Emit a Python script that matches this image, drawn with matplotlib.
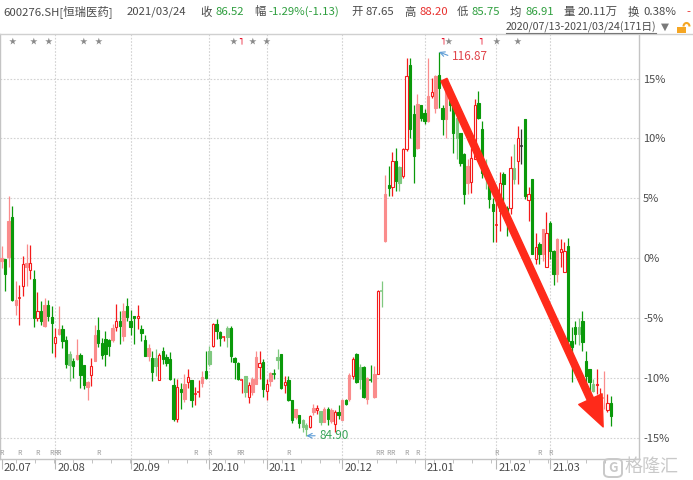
import matplotlib
matplotlib.use('Agg')
import matplotlib.pyplot as plt
import matplotlib.transforms as mtransforms
from matplotlib.patches import Rectangle, FancyBboxPatch, Arc
from matplotlib.lines import Line2D
import numpy as np

plt.rcParams['font.family'] = ['Noto Sans CJK SC', 'DejaVu Sans']

# 涨跌幅(%)，相对基准价
base_price = 99.7
opens = [
    -0.2, -0.06, 0.06, 3.47, -3.94, -3.36, -2.36, -0.78, -0.97, -1.75, -5.0, -4.44, -5.69, -3.94, -4.94,
    -7.08, -6.31, -5.89, -6.81, -8.0, -8.56, -8.39, -8.06, -8.89, -10.78, -9.78, -8.56, -6.03, -7.08, -6.75,
    -6.86, -6.81, -5.78, -5.22, -6.47, -4.03,
    -5.28, -4.81, -5.0, -5.89, -6.81, -8.19, -8.33, -8.33, -10.14, -7.72, -8.3, -8.42, -10.64, -13.42, -10.92,
    -11.75, -10.31, -10.22, -11.4, -11.25, -10.42, -9.39,
    -7.72, -7.31, -5.5, -6.19, -6.64, -5.86, -5.86, -8.36, -8.75, -10.22, -9.86, -11.6, -11.19, -10.5, -9.11, -8.64,
    -11.06, -10.3, -9.6, -8.3, -8.0, -10.58, -10.14, -11.83, -13.28, -13.14, -13.56, -13.97, -14.1, -12.86, -12.7,
    -12.8, -13.69, -12.58, -13.64, -13.83, -12.86,
    -13.56, -11.89, -11.75, -9.81, -8.0, -9.11, -9.11, -11.8, -10.1, -11.6, -9.67, -2.7, 1.44, 6.08, 5.94, 8.11,
    7.61, 6.86, 9.08, 16.17, 12.06, 9.22, 12.75,
    12.14, 11.44, 13.53, 12.56, 15.33, 12.56, 11.58, 14.22, 12.83, 11.72, 10.47, 8.67, 6.31, 6.36, 8.25, 12.97,
    10.75, 7.14, 6.17, 4.5,
    2.72, 3.94, 7.0, 4.22, 4.22, 7.56, 8.11, 9.36, 11.58, 4.83, 6.58, -0.08, 1.17, 0.33, -0.72,
    2.97, 0.61, -1.33, 0.47, -1.19, 1.03, -6.89, -5.78, -5.78, -5.22, -8.56, -9.25, -10.5, -10.64, -11.72, -11.72,
    -12.67, -12.09,
]
highs = [
    1.05, -0.06, 5.22, 4.36, -1.94, -2.22, 0.14, 1.19, 1.11, -0.97, -2.83, -3.56, -3.33, -3.47, -4.03,
    -5.83, -3.97, -5.61, -6.53, -7.8, -8.33, -6.72, -7.92, -8.89, -10.28, -8.33, -5.56, -4.94, -6.67, -6.11,
    -6.72, -5.5, -3.83, -4.39, -3.75, -3.33,
    -4.31, -4.81, -3.94, -5.61, -6.44, -7.17, -7.78, -7.58, -7.92, -7.44, -8.0, -7.86, -10.0, -10.1, -10.42,
    -9.67, -9.25, -10.2, -10.78, -10.22, -9.39, -7.8,
    -7.3, -5.4, -5.08, -6.06, -6.47, -5.69, -5.69, -8.28, -8.69, -10.1, -9.86, -10.36, -9.94, -7.72, -7.72, -8.42,
    -10.08, -9.53, -9.25, -7.6, -8.0, -9.86, -9.86, -11.83, -12.58, -13.08, -13.42, -13.8, -13.1, -12.17, -12.25,
    -12.8, -12.4, -12.44, -12.5, -12.72, -12.3,
    -11.75, -11.8, -9.6, -8.28, -7.92, -8.83, -9.03, -9.94, -8.92, -9.03, -2.64, -1.89, 6.92, 7.69, 8.89, 9.22,
    7.69, 9.22, 16.72, 16.72, 12.83, 13.67, 12.83,
    12.42, 16.72, 15.06, 15.33, 17.22, 12.83, 15.06, 14.36, 12.97, 11.86, 10.47, 8.81, 8.25, 9.22, 13.25, 13.94,
    11.44, 8.25, 6.72, 5.06,
    5.19, 7.22, 7.22, 4.36, 8.53, 9.56, 11.03, 10.75, 11.58, 5.94, 6.58, 2.06, 1.31, 2.42, 3.89,
    3.11, 0.67, 1.72, 1.58, 1.31, 1.72, -5.78, -5.22, -5.0, -4.44, -7.72, -9.25, -10.08, -9.25, -10.83, -9.44,
    -11.33, -11.53,
]
lows = [
    -0.8, -2.78, -0.78, -3.61, -4.78, -5.56, -3.19, -2.36, -1.75, -5.78, -5.28, -5.56, -5.78, -5.28, -7.92,
    -8.28, -6.39, -7.5, -9.17, -10.28, -10.0, -8.47, -10.83, -10.97, -11.86, -10.69, -8.56, -7.44, -8.39, -9.03,
    -8.19, -7.0, -6.11, -7.17, -6.94, -5.22,
    -6.39, -7.17, -5.89, -6.89, -8.19, -8.56, -10.28, -9.86, -10.14, -8.83, -9.0, -10.14, -13.6, -13.7, -12.58,
    -12.03, -10.86, -12.44, -12.3, -11.6, -10.78, -10.08,
    -8.97, -7.4, -6.75, -7.3, -6.9, -7.4, -8.69, -10.08, -10.22, -11.25, -11.6, -12.08, -11.47, -10.5, -10.08, -11.6,
    -11.89, -10.69, -10.08, -9.25, -10.97, -11.25, -11.97, -13.75, -13.42, -14.19, -14.5, -14.84, -14.2, -13.14,
    -13.0, -13.97, -13.7, -13.97, -13.8, -14.53, -13.42,
    -13.56, -12.25, -11.9, -10.08, -10.42, -10.92, -11.69, -12.17, -10.36, -11.69, -9.67, -4.11, 1.31, 5.19, 5.19,
    5.61, 5.61, 6.72, 8.94, 10.06, 6.31, 9.08, 11.44,
    11.17, 11.39, 13.39, 12.14, 12.56, 10.28, 10.06, 12.28, 8.81, 8.25, 7.69, 4.5, 5.33, 5.47, 8.25, 11.58,
    6.72, 5.75, 4.22, 1.31,
    1.31, 2.28, 4.78, 1.86, 3.67, 6.17, 6.17, 7.83, 4.92, 3.11, 0.33, -0.5, -0.5, -0.22, -0.72,
    -0.08, -2.22, -2.03, -0.78, -1.19, -7.17, -10.36, -7.17, -7.22, -7.72, -10.36, -11.06, -11.19, -11.33,
    -12.17, -12.58, -12.86, -13.99,
]
closes = [
    0.05, -1.33, 3.14, -3.47, -3.47, -3.3, -0.5, -0.44, -0.44, -5.0, -4.44, -5.22, -3.89, -4.86, -5.42,
    -6.58, -5.89, -6.94, -8.81, -8.9, -8.97, -8.06, -9.78, -10.56, -10.33, -8.97, -6.44, -7.08, -8.06, -8.0,
    -7.36, -5.83, -5.22, -5.69, -4.39, -4.94,
    -5.78, -5.0, -4.81, -6.25, -8.19, -7.5, -9.5, -9.03, -8.06, -8.42, -8.8, -10.08, -13.42, -10.78, -11.19,
    -10.5, -9.94, -11.89, -11.3, -11.15, -9.94, -10.03,
    -8.83, -5.5, -6.06, -6.69, -6.55, -6.61, -8.19, -8.69, -10.08, -10.17, -11.19, -10.56, -10.08, -8.28, -8.75,
    -10.92,
    -10.5, -9.58, -9.7, -8.5, -10.83, -10.36, -11.89, -13.56, -12.64, -13.75, -14.1, -14.25, -13.2, -12.53,
    -12.53, -13.7, -12.58, -13.42, -12.72, -12.86, -13.14,
    -11.89, -12.17, -9.75, -8.42, -10.36, -10.08, -11.61, -10.03, -10.2, -9.67, -2.72, -2.8, 5.39, 5.89, 8.11,
    6.44, 6.31, 9.08, 15.19, 10.8, 8.53, 12.89, 11.72,
    11.44, 13.53, 13.89, 15.19, 14.22, 11.58, 14.92, 12.83, 10.47, 10.06, 7.97, 5.33, 7.69, 8.39, 12.83, 11.72,
    7.14, 6.86, 4.92, 3.94,
    2.83, 6.31, 6.17, 3.53, 7.56, 6.58, 10.06, 9.36, 5.19, 5.39, 0.33, 0.89, 0.33, 2.42, 2.06,
    0.61, -1.33, 1.58, 0.75, 0.56, -6.89, -7.44, -6.33, -6.33, -7.03, -9.81, -10.36, -11.06, -10.5, -11.64,
    -11.64, -12.11, -13.22,
]
faded = [0, 2, 4, 7, 12, 16, 19, 21, 24, 26, 31, 34, 41, 43, 51, 56, 58, 63, 68, 70, 71, 75, 77, 82, 84, 85,
         87, 89, 90, 92, 95, 97, 100, 102, 104, 106, 107, 111, 116, 119, 121, 124, 127, 130, 135, 143, 151,
         155, 161, 165, 168]

month_start = [0, 15, 36, 58, 74, 95, 118, 138, 153]
month_labels = ['20.07', '20.08', '20.09', '20.10', '20.11', '20.12', '21.01', '21.02', '21.03']
y_ticks = [15, 10, 5, 0, -5, -10, -15]
star_days = [3, 9, 13, 23, 27, 64.6, 70, 74, 124.6, 138, 144]
flag_days = [66.5, 122.8, 133.5]
r_days = [0, 5, 10, 14, 15, 16, 27, 54, 58, 66, 67, 80, 105, 106, 108, 109, 113, 116, 138, 150, 153]
max_price, min_price = 116.87, 84.90

RED, GREEN = '#f51b1b', '#0a990a'
RED_F, GREEN_F = '#fa8c8c', '#7fc87f'
GRAY_TXT = '#4a4a4a'

W, H = 693, 480
fig = plt.figure(figsize=(W / 100, H / 100), dpi=100)
fig.patch.set_facecolor('white')


def fx(px):
    return px / W


def fy(py):
    return 1 - py / H


ax = fig.add_axes([0, fy(459), fx(639), (459 - 34) / H])
ax.set_xlim(-0.42, 177.8)
ax.set_ylim(-16.78, 18.72)
ax.set_facecolor('none')

for v in y_ticks:
    ax.axhline(v, color='#d2d2d2', lw=0.8, ls=(0, (1.5, 1.5)), zorder=0)
for m in month_start[1:]:
    ax.axvline(m, color='#d2d2d2', lw=0.8, ls=(0, (1.5, 1.5)), zorder=0)

bw = 0.66
for i in range(len(closes)):
    o, h, l, c = opens[i], highs[i], lows[i], closes[i]
    fade = i in faded
    if c > o:
        edge = RED_F if fade else RED
        face = RED_F if fade else 'white'
    elif c < o:
        edge = face = GREEN_F if fade else GREEN
    else:
        edge = face = '#333333'
    ax.vlines(i, l, h, color=edge, lw=0.9, zorder=2)
    top, bot = max(o, c), min(o, c)
    if top - bot < 0.12:
        ax.hlines((o + c) / 2, i - bw / 2 - 0.1, i + bw / 2 + 0.1, color=edge, lw=1.1, zorder=3)
    else:
        ax.add_patch(Rectangle((i - bw / 2, bot), bw, top - bot, facecolor=face,
                               edgecolor=edge, lw=0.8, zorder=3))

# 最高/最低价标注
hi_i = int(np.argmax(highs))
lo_i = int(np.argmin(lows))
ax.annotate(f'{max_price:.2f}', xy=(hi_i, highs[hi_i]), xytext=(13, -5), textcoords='offset pixels',
            ha='left', va='center', fontsize=8.5, color='#e0464c',
            arrowprops=dict(arrowstyle='->', color='#5b9bd5', lw=0.8, shrinkA=1, shrinkB=0,
                            relpos=(0, 0.5)))
ax.annotate(f'{min_price:.2f}', xy=(lo_i, lows[lo_i]), xytext=(13, 0), textcoords='offset pixels',
            ha='left', va='center', fontsize=8.5, color='#3aa55a',
            arrowprops=dict(arrowstyle='->', color='#5b9bd5', lw=0.8, shrinkA=1, shrinkB=0,
                            relpos=(0, 0.5)))

# 红色趋势箭头
ax.annotate('', xy=(167.8, -14.1), xytext=(123.4, 14.9),
            arrowprops=dict(arrowstyle='simple,head_length=2.2,head_width=1.85,tail_width=0.48',
                            color='#ff2a1a', shrinkA=0, shrinkB=0, mutation_scale=10), zorder=5)

trans = mtransforms.blended_transform_factory(ax.transData, ax.transAxes)
for d in star_days:
    ax.text(d, 0.982, '★', transform=trans, ha='center', va='center', fontsize=5.5, color='#8a8a8a')
for d in flag_days:
    ax.text(d, 0.982, '˥', transform=trans, ha='center', va='center', fontsize=6,
            color='#e8102a', fontweight='bold', family='DejaVu Sans')
for d in r_days:
    ax.text(d, 0.014, 'R', transform=trans, ha='center', va='center', fontsize=5, color='#9a9a9a')

# 坐标轴
ax.yaxis.tick_right()
ax.set_yticks(y_ticks)
ax.set_yticklabels([f'{v}%' for v in y_ticks])
ax.tick_params(axis='y', length=0, pad=3, labelsize=8, labelcolor=GRAY_TXT)
ax.set_xticks(month_start)
ax.set_xticklabels([])
ax.set_xticks(np.arange(4, 171, 5.3), minor=True)
ax.tick_params(axis='x', which='major', length=7, color='#b8b8b8', direction='out')
ax.tick_params(axis='x', which='minor', length=3, color='#b8b8b8', direction='out')
for m, lab in zip(month_start, month_labels):
    ax.text(m + 0.55, -0.022, lab, transform=trans, ha='left', va='center', fontsize=8, color=GRAY_TXT)
for s in ['left', 'right', 'bottom']:
    ax.spines[s].set_color('#c4c4c4')
    ax.spines[s].set_linewidth(1)
ax.spines['top'].set_visible(False)

fig.add_artist(Line2D([0, 1], [fy(34), fy(34)], color='#d0d0d0', lw=1, transform=fig.transFigure))

# 顶部行情栏
header = [
    (3, '600276.SH[恒瑞医药]', GRAY_TXT), (127, '2021/03/24', GRAY_TXT),
    (200, '收', GRAY_TXT), (215, '86.52', '#2e9e3e'),
    (254, '幅', GRAY_TXT), (268, '-1.29%(-1.13)', '#2e9e3e'),
    (351, '开', GRAY_TXT), (366, '87.65', GRAY_TXT),
    (404, '高', GRAY_TXT), (419, '88.20', '#e8312f'),
    (457, '低', GRAY_TXT), (472, '85.75', '#2e9e3e'),
    (510, '均', GRAY_TXT), (525, '86.91', '#2e9e3e'),
    (563, '量', GRAY_TXT), (578, '20.11万', GRAY_TXT),
    (628, '换', GRAY_TXT), (643, '0.38%', GRAY_TXT),
    (686, '-', '#e8312f'),
]
for px, s, col in header:
    fig.text(fx(px), fy(12), s, ha='left', va='center', fontsize=8.2, color=col)

fig.text(fx(506), fy(27), '2020/07/13-2021/03/24(171日)', ha='left', va='center', fontsize=7.7,
         color=GRAY_TXT)
fig.add_artist(Line2D([fx(506), fx(656)], [fy(33), fy(33)], color='#777777', lw=0.8,
                      transform=fig.transFigure))
fig.text(fx(661), fy(27), '▼', ha='left', va='center', fontsize=7.5, color='#7a7a7a', family='DejaVu Sans')
fig.add_artist(Rectangle((fx(677), fy(33)), fx(9), 6 / H, facecolor='#f5a623', edgecolor='none',
                         transform=fig.transFigure))
fig.add_artist(Arc((fx(686.5), fy(26.5)), fx(6), 7 / H, theta1=0, theta2=180, color='#f5a623', lw=1.5,
                   transform=fig.transFigure))

# 水印
fig.add_artist(FancyBboxPatch((fx(604), fy(477)), fx(18), 18 / H, boxstyle='round,pad=0,rounding_size=0.008',
                              facecolor='none', edgecolor='#c9c9c9', lw=1.4, transform=fig.transFigure))
fig.text(fx(613), fy(468), 'G', ha='center', va='center', fontsize=9.5, color='#c9c9c9', fontweight='bold')
fig.text(fx(625), fy(467), '格隆汇', ha='left', va='center', fontsize=13, color='#c9c9c9')

fig.savefig('out.png', dpi=100, facecolor='white')
